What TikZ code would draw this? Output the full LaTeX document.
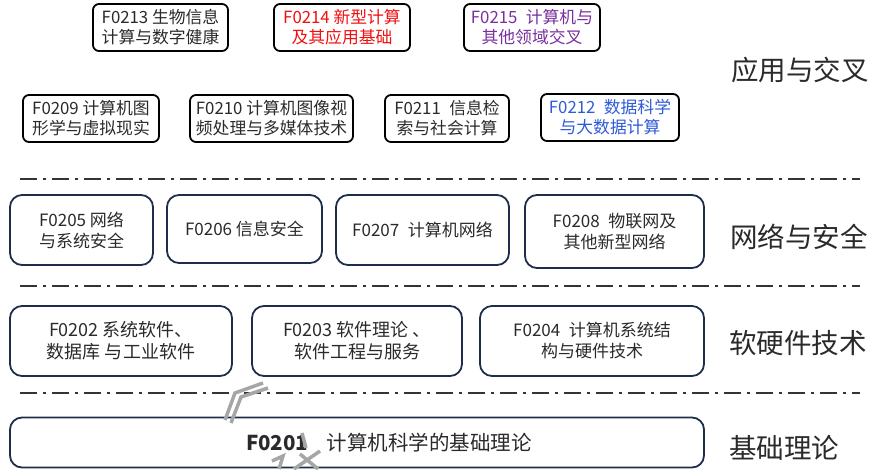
\documentclass[tikz,border=0pt]{standalone}
\usepackage{fontspec}
\setmainfont{Noto Sans CJK SC}
\definecolor{navy}{HTML}{1F2D4D}
\definecolor{txt}{HTML}{2A2A2A}
\definecolor{redt}{HTML}{F01010}
\definecolor{purt}{HTML}{7A2FA0}
\definecolor{bluet}{HTML}{2E5BD8}
\definecolor{sep}{HTML}{333333}
\newcommand{\gap}{\hspace{0.5em}}
\begin{document}
\begin{tikzpicture}[x=1pt,y=-1pt,
  appbox/.style={draw=black,line width=1.8pt,rounded corners=6pt,align=center,
    font=\fontsize{16.8}{20}\selectfont,text=txt,inner sep=0pt,minimum height=47pt},
  navbox/.style={draw=navy,line width=1.8pt,rounded corners=12pt,align=center,
    font=\fontsize{17}{21}\selectfont,text=txt,inner sep=0pt},
  layer/.style={font=\fontsize{27.5}{32}\selectfont,text=txt,inner sep=0pt},
  sepline/.style={draw=sep,line width=1.8pt,dash pattern=on 17pt off 6pt on 3pt off 6pt},
  greymark/.style={draw=gray!70,line width=3.5pt}]
\useasboundingbox (0,0) rectangle (872,469);
% row 1
\node[appbox,minimum width=135pt] (f13) at (160.5,27.5) {F0213 生物信息\\计算与数字健康};
\node[appbox,minimum width=136pt,text=redt] (f14) at (342,27.5) {F0214 新型计算\\及其应用基础};
\node[appbox,minimum width=136pt,text=purt] (f15) at (532,27.5) {F0215\gap{}计算机与\\其他领域交叉};
\node[layer] (l4) at (800,70) {应用与交叉};
% row 2
\node[appbox,minimum width=136pt] (f09) at (91,118.5) {F0209 计算机图\\形学与虚拟现实};
\node[appbox,minimum width=163pt] (f10) at (271.5,118.5) {F0210 计算机图像视\\频处理与多媒体技术};
\node[appbox,minimum width=124pt] (f11) at (447,118.5) {F0211\gap{}信息检\\索与社会计算};
\node[appbox,minimum width=138pt,text=bluet] (f12) at (610,117.5) {F0212\gap{}数据科学\\与大数据计算};
% separators
\coordinate (s1a) at (20,179); \coordinate (s1b) at (860,179);
\coordinate (s2a) at (20,286); \coordinate (s2b) at (860,286);
\coordinate (s3a) at (20,393); \coordinate (s3b) at (860,393);
\draw[sepline] (s1a) -- (s1b);
\draw[sepline] (s2a) -- (s2b);
\draw[sepline] (s3a) -- (s3b);
% row 3
\node[navbox,minimum width=143pt,minimum height=70pt] (f05) at (81.5,230) {F0205 网络\\与系统安全};
\node[navbox,minimum width=155pt,minimum height=68pt] (f06) at (244.5,229) {F0206 信息安全};
\node[navbox,minimum width=173pt,minimum height=70pt] (f07) at (422.5,230) {F0207\gap{}计算机网络};
\node[navbox,minimum width=179pt,minimum height=73pt] (f08) at (614.5,231.5) {F0208\gap{}物联网及\\其他新型网络};
\node[layer] (l3) at (799,237) {网络与安全};
% row 4
\node[navbox,minimum width=222pt,minimum height=70pt,font=\fontsize{18}{22}\selectfont] (f02) at (121,341) {F0202 系统软件、\\数据库 与工业软件};
\node[navbox,minimum width=210pt,minimum height=70pt,font=\fontsize{18}{22}\selectfont] (f03) at (357,341) {F0203 软件理论 、\\软件工程与服务};
\node[navbox,minimum width=224pt,minimum height=70pt] (f04) at (592,341) {F0204\gap{}计算机系统结\\构与硬件技术};
\node[layer] (l2) at (798,343) {软硬件技术};
% row 5
\node[navbox,minimum width=694pt,minimum height=50pt,font=\fontsize{20.5}{24}\selectfont] (f01) at (357,442.5) {\hspace{64pt}\textbf{F0201}\hspace{0.9em}计算机科学的基础理论};
\node[layer] (l1) at (784,448) {基础理论};
% grey marks
\draw[greymark] (225,420) -- (235,393) -- (263,383);
\draw[greymark] (231,423) -- (241,397) -- (268,388);
\draw[greymark] (302,433) -- (306,448);
\draw[greymark] (294,469) -- (320,451);
\draw[greymark] (300,454) -- (318,469);
\draw[greymark] (272,461) -- (283,456) -- (279,469);
\end{tikzpicture}
\end{document}
